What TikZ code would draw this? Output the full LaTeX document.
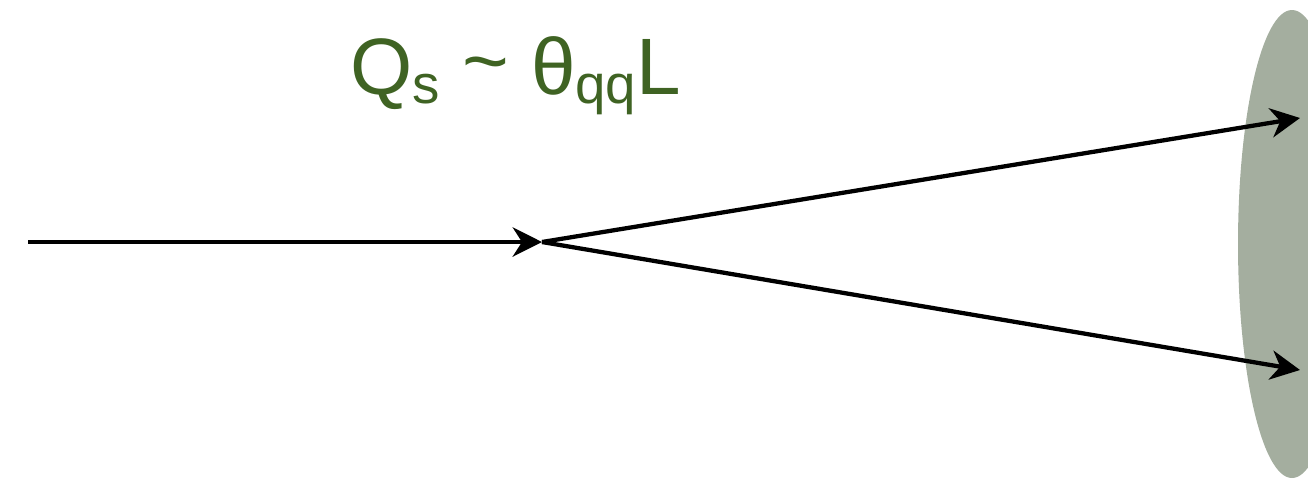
\documentclass[tikz,border=0pt]{standalone}
\usepackage{fontspec}
\newfontfamily\arialf{Liberation Sans}
\usetikzlibrary{arrows.meta}
\definecolor{eqgreen}{HTML}{3F6323}
\definecolor{targetgray}{HTML}{A4AE9F}
\begin{document}
\begin{tikzpicture}[x=0.75pt,y=-0.75pt,
  ray/.style={line width=3.2pt,-{Stealth[length=22pt,width=22pt,inset=7pt]}},
  lbl/.style={text=eqgreen,font=\arialf\fontsize{60pt}{68pt}\selectfont,inner sep=0pt,anchor=base west}]
\useasboundingbox (0,0) rectangle (1308,487);
\fill[targetgray] (1292,244) ellipse [x radius=54, y radius=234];
\coordinate (start) at (28,242);
\coordinate (split) at (542,242);
\coordinate (top) at (1300,118);
\coordinate (bot) at (1300,370);
\draw[ray] (start) -- (split);
\draw[ray] (split) -- (top);
\draw[ray] (split) -- (bot);
\node[lbl] (eq) at (350,94) {Q\raisebox{-7pt}{\fontsize{41pt}{45pt}\selectfont s} \raisebox{4pt}{\~{}} θ\raisebox{-7pt}{\fontsize{41pt}{45pt}\selectfont qq}L};
\end{tikzpicture}
\end{document}
